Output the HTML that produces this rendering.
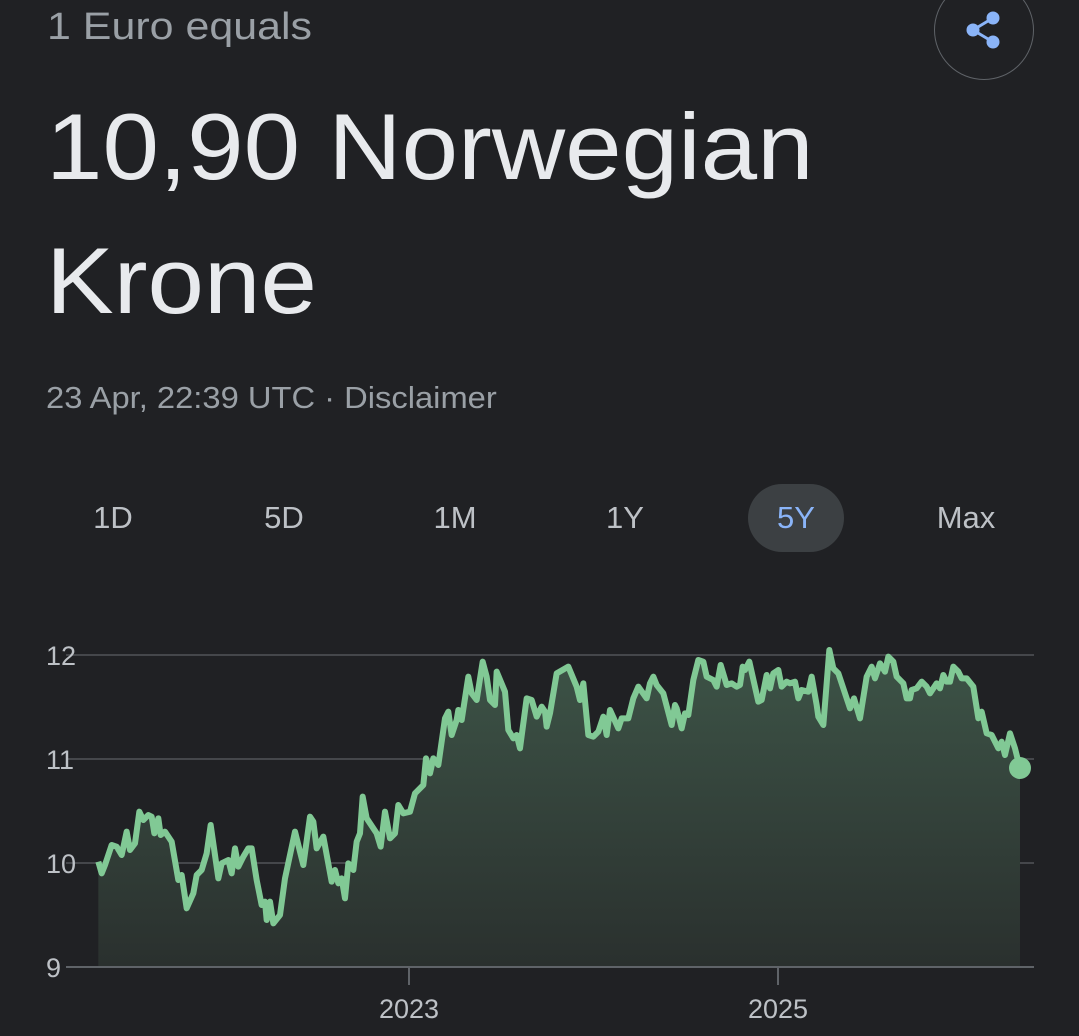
<!DOCTYPE html>
<html><head><style>
body{margin:0;width:1079px;height:1036px;background:#202124;overflow:hidden;font-family:"Liberation Sans",Roboto,sans-serif;position:relative}
.t{position:absolute;white-space:nowrap;transform-origin:0 0}
.tab{position:absolute;top:492px;height:52px;line-height:52px;font-size:31px;color:#bdc1c6;transform:translateX(-50%);text-align:center}
</style></head><body>
<div class="t" style="left:47px;top:6px;font-size:38px;color:#9aa0a6;transform:scaleX(1.13)">1 Euro equals</div>
<div class="t" style="left:46px;top:92px;font-size:94px;color:#e8eaed;line-height:110px;transform:scaleX(1.08)">10,90 Norwegian</div>
<div class="t" style="left:46px;top:226px;font-size:94px;color:#e8eaed;line-height:110px;transform:scaleX(1.08)">Krone</div>
<div class="t" style="left:46px;top:380px;font-size:31px;color:#9aa0a6;transform:scaleX(1.055)">23 Apr, 22:39 UTC · Disclaimer</div>
<div style="position:absolute;left:934px;top:-20px;width:98px;height:98px;border:1.5px solid #5f6368;border-radius:50%"></div>
<svg style="position:absolute;left:964px;top:10px" width="40" height="40" viewBox="0 0 40 40"><g fill="#8ab4f8" stroke="#8ab4f8" stroke-width="3"><circle cx="29" cy="8" r="5"/><circle cx="9" cy="20" r="5"/><circle cx="29" cy="32" r="5"/><line x1="29" y1="8" x2="9" y2="20"/><line x1="9" y1="20" x2="29" y2="32"/></g></svg>
<div class="tab" style="left:113px">1D</div>
<div class="tab" style="left:284px">5D</div>
<div class="tab" style="left:455px">1M</div>
<div class="tab" style="left:625px">1Y</div>
<div style="position:absolute;left:748px;top:484px;width:96px;height:68px;border-radius:34px;background:#3c4043"></div>
<div class="tab" style="left:796px;color:#8ab4f8">5Y</div>
<div class="tab" style="left:966px">Max</div>
<svg style="position:absolute;left:0;top:0" width="1079" height="1036">
<defs><linearGradient id="g" x1="0" y1="0" x2="0" y2="1"><stop offset="0" stop-color="#3d5447"/><stop offset="1" stop-color="#2a302e"/></linearGradient></defs>
<g stroke="#45474b" stroke-width="2"><line x1="66" y1="655" x2="1034" y2="655"/><line x1="66" y1="759" x2="1034" y2="759"/><line x1="66" y1="863" x2="1034" y2="863"/></g>
<g font-size="27" fill="#bdc1c6" font-family="Liberation Sans,sans-serif"><text x="46" y="665">12</text><text x="46" y="769">11</text><text x="46" y="873">10</text><text x="46" y="977">9</text>
<text x="409" y="1018" text-anchor="middle">2023</text><text x="778" y="1018" text-anchor="middle">2025</text></g>
<g transform="translate(90,640) scale(0.33333)">
<path fill="url(#g)" d="M25,981 L25,665 35,700 45,675 65,615 80,620 95,645 110,575 120,630 135,610 148,515 160,540 175,525 185,530 193,580 205,535 212,585 225,575 245,605 265,720 275,705 290,805 310,760 320,705 335,690 350,640 362,555 385,715 395,670 415,660 425,700 435,625 445,680 460,650 475,625 485,625 500,720 515,795 525,785 530,840 540,785 550,850 570,825 585,715 615,575 640,675 660,530 670,545 680,625 700,590 725,725 735,690 745,730 755,715 765,775 775,670 790,690 800,605 810,580 818,470 830,535 860,580 872,620 885,515 900,595 915,580 925,495 940,520 960,515 975,460 1000,435 1008,355 1020,400 1030,355 1045,375 1065,235 1075,215 1085,285 1100,240 1105,210 1115,240 1135,110 1145,160 1160,180 1178,65 1190,110 1200,180 1215,195 1220,95 1245,155 1255,270 1270,295 1280,285 1290,325 1310,175 1325,180 1340,230 1355,200 1365,215 1370,260 1380,220 1400,100 1435,80 1460,140 1470,180 1480,130 1495,285 1510,290 1525,275 1540,230 1550,285 1560,210 1585,265 1595,235 1615,235 1630,175 1645,140 1670,175 1680,130 1690,110 1700,135 1720,160 1745,255 1755,195 1760,205 1775,265 1785,220 1795,225 1810,120 1825,60 1840,65 1850,110 1870,120 1880,140 1892,75 1910,135 1925,130 1940,140 1950,135 1958,80 1965,90 1978,65 2005,185 2015,180 2030,105 2040,145 2050,100 2065,90 2075,140 2090,125 2100,130 2115,125 2125,175 2135,150 2155,155 2165,110 2180,195 2185,230 2200,255 2218,30 2230,85 2245,100 2280,205 2292,175 2310,235 2330,110 2345,80 2355,115 2370,70 2385,95 2395,50 2410,65 2420,110 2440,130 2450,175 2460,175 2465,150 2480,145 2495,125 2510,140 2520,160 2540,130 2550,145 2560,105 2570,125 2580,125 2590,80 2605,95 2615,115 2630,115 2650,140 2665,235 2675,215 2690,280 2705,285 2725,325 2735,305 2745,345 2760,280 2775,325 2790,385 L2790,981 Z"/>
<path fill="none" stroke="#81c995" stroke-width="18" stroke-linejoin="round" d="M25,665 35,700 45,675 65,615 80,620 95,645 110,575 120,630 135,610 148,515 160,540 175,525 185,530 193,580 205,535 212,585 225,575 245,605 265,720 275,705 290,805 310,760 320,705 335,690 350,640 362,555 385,715 395,670 415,660 425,700 435,625 445,680 460,650 475,625 485,625 500,720 515,795 525,785 530,840 540,785 550,850 570,825 585,715 615,575 640,675 660,530 670,545 680,625 700,590 725,725 735,690 745,730 755,715 765,775 775,670 790,690 800,605 810,580 818,470 830,535 860,580 872,620 885,515 900,595 915,580 925,495 940,520 960,515 975,460 1000,435 1008,355 1020,400 1030,355 1045,375 1065,235 1075,215 1085,285 1100,240 1105,210 1115,240 1135,110 1145,160 1160,180 1178,65 1190,110 1200,180 1215,195 1220,95 1245,155 1255,270 1270,295 1280,285 1290,325 1310,175 1325,180 1340,230 1355,200 1365,215 1370,260 1380,220 1400,100 1435,80 1460,140 1470,180 1480,130 1495,285 1510,290 1525,275 1540,230 1550,285 1560,210 1585,265 1595,235 1615,235 1630,175 1645,140 1670,175 1680,130 1690,110 1700,135 1720,160 1745,255 1755,195 1760,205 1775,265 1785,220 1795,225 1810,120 1825,60 1840,65 1850,110 1870,120 1880,140 1892,75 1910,135 1925,130 1940,140 1950,135 1958,80 1965,90 1978,65 2005,185 2015,180 2030,105 2040,145 2050,100 2065,90 2075,140 2090,125 2100,130 2115,125 2125,175 2135,150 2155,155 2165,110 2180,195 2185,230 2200,255 2218,30 2230,85 2245,100 2280,205 2292,175 2310,235 2330,110 2345,80 2355,115 2370,70 2385,95 2395,50 2410,65 2420,110 2440,130 2450,175 2460,175 2465,150 2480,145 2495,125 2510,140 2520,160 2540,130 2550,145 2560,105 2570,125 2580,125 2590,80 2605,95 2615,115 2630,115 2650,140 2665,235 2675,215 2690,280 2705,285 2725,325 2735,305 2745,345 2760,280 2775,325 2790,385"/>
</g>
<line x1="66" y1="967" x2="1034" y2="967" stroke="#5f6368" stroke-width="2"/>
<line x1="409" y1="967" x2="409" y2="985" stroke="#5f6368" stroke-width="2"/>
<line x1="778" y1="967" x2="778" y2="985" stroke="#5f6368" stroke-width="2"/>
<circle cx="1020" cy="768" r="11" fill="#81c995"/>
</svg>
</body></html>
